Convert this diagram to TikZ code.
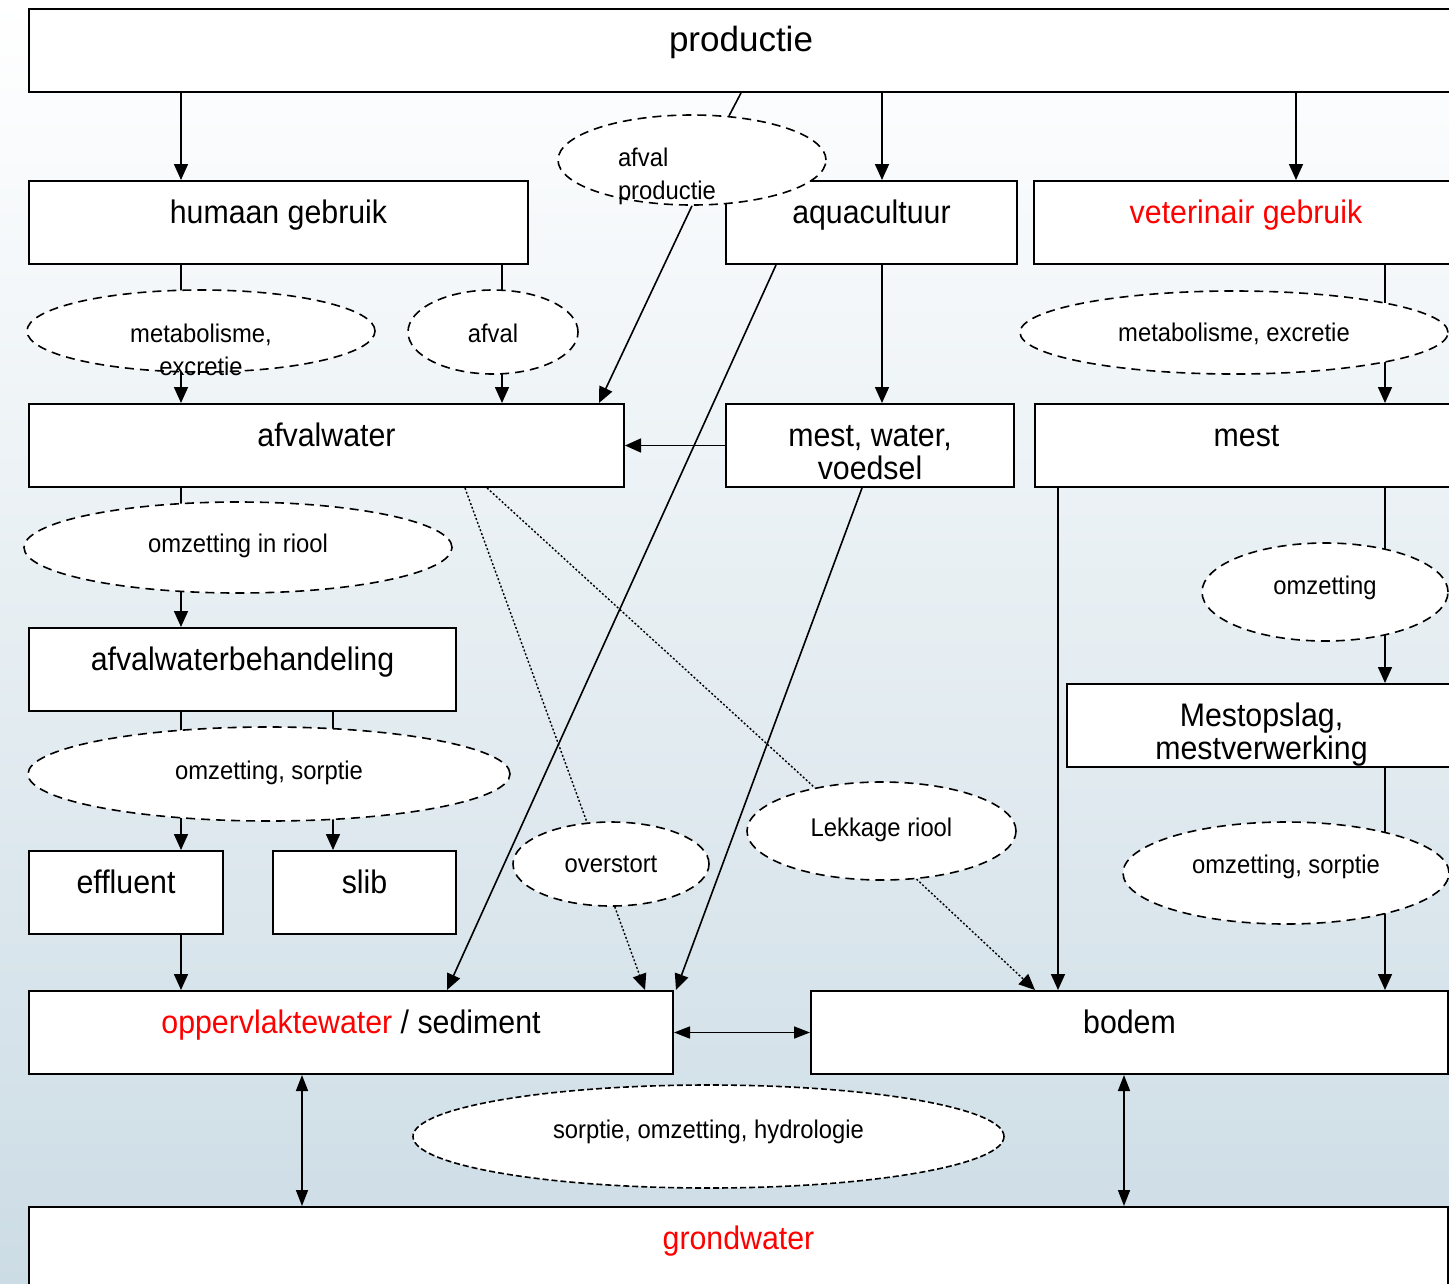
\documentclass[tikz,border=0pt]{standalone}
\usepackage{fontspec}
\setmainfont[FakeStretch=0.93]{Liberation Sans}
\newfontfamily\prodfont{Liberation Sans}
\usepackage{xcolor}
\usepackage{tikz}
\usetikzlibrary{positioning,shapes,arrows.meta,calc,backgrounds}
\definecolor{bgblue}{RGB}{204,220,229}
\definecolor{flowred}{RGB}{255,0,0}
\newcommand{\boxfont}{\fontsize{32.6}{32}\selectfont}
\newcommand{\ellfont}{\fontsize{25.6}{33}\selectfont}
\tikzstyle{box}=[draw, line width=2pt, fill=white, anchor=north west, inner xsep=4pt, inner ysep=0pt, text height=42pt, text depth=41pt, font=\boxfont]
\tikzstyle{ell}=[ellipse, draw, line width=1.6pt, dash pattern=on 9pt off 6pt, fill=white, inner sep=0pt, text height=17pt, text depth=7pt, font=\ellfont]
\tikzstyle{arrow}=[-{Triangle[length=16pt,width=14pt]}, line width=1.6pt]
\tikzstyle{twoway}=[{Triangle[length=16pt,width=12pt]}-{Triangle[length=16pt,width=12pt]}, line width=1.6pt]
\tikzstyle{leak}=[line width=1.4pt, dash pattern=on 2pt off 2pt]

\begin{document}
\begin{tikzpicture}[x=1pt,y=-1pt]
	\useasboundingbox (0,0) rectangle (1449,1283);
	\begin{scope}[on background layer]
		\shade[top color=white, bottom color=bgblue] (0,0) rectangle (1449,1283);
	\end{scope}
	\clip (0,0) rectangle (1449,1283);

	% boxes
	\node[box, minimum width=1424pt, font={\prodfont\fontsize{35}{35}\selectfont}] (prod) at (28,8) {productie};
	\node[box, minimum width=499pt] (hum) at (28,180) {humaan gebruik};
	\node[box, minimum width=291pt] (aqua) at (725,180) {aquacultuur};
	\node[box, minimum width=424pt, text=flowred] (vet) at (1033,180) {veterinair gebruik};
	\node[box, minimum width=595pt] (afw) at (28,403) {afvalwater};
	\node[box, minimum width=288pt] (mwv) at (725,403) {\begin{tabular}[t]{@{}c@{}}mest, water,\\voedsel\end{tabular}};
	\node[box, minimum width=423pt] (mest) at (1034,403) {mest};
	\node[box, minimum width=427pt] (awb) at (28,627) {afvalwaterbehandeling};
	\node[box, minimum width=389pt] (mop) at (1066,683) {\begin{tabular}[t]{@{}c@{}}Mestopslag,\\mestverwerking\end{tabular}};
	\node[box, minimum width=194pt] (eff) at (28,850) {effluent};
	\node[box, minimum width=183pt] (slib) at (272,850) {slib};
	\node[box, minimum width=644pt] (opp) at (28,990) {\textcolor{flowred}{oppervlaktewater} / sediment};
	\node[box, minimum width=637pt] (bod) at (810,990) {bodem};
	\node[box, minimum width=1419pt, text=flowred] (grw) at (28,1206) {grondwater};

	% processes
	\node[ell, minimum width=268pt, minimum height=90pt, text height=18pt, text depth=6pt] (eafp) at (692,160) {\makebox[148pt][l]{\begin{tabular}[t]{@{}l@{}}afval\\productie\end{tabular}}};
	\node[ell, minimum width=348pt, minimum height=82pt, text height=24pt, text depth=2pt] (emeh) at (201,331) {\begin{tabular}[t]{@{}c@{}}metabolisme,\\excretie\end{tabular}};
	\node[ell, minimum width=170pt, minimum height=84pt, text height=21pt, text depth=1pt] (eafv) at (493,332) {afval};
	\node[ell, minimum width=428pt, minimum height=83pt, text height=21pt, text depth=3pt] (emev) at (1234,332.5) {metabolisme, excretie};
	\node[ell, minimum width=428pt, minimum height=91pt] (eriool) at (238,547.5) {omzetting in riool};
	\node[ell, minimum width=246pt, minimum height=98pt, text height=14pt, text depth=10pt] (eomz) at (1325,592) {omzetting};
	\node[ell, minimum width=482pt, minimum height=94pt] (eomsl) at (269,774) {omzetting, sorptie};
	\node[ell, minimum width=196pt, minimum height=84pt, text height=20pt, text depth=4pt] (eover) at (611,864) {overstort};
	\node[ell, minimum width=269pt, minimum height=98pt] (elek) at (881.5,831) {Lekkage riool};
	\node[ell, minimum width=326pt, minimum height=102pt, text height=12pt, text depth=12pt] (eomsr) at (1286,873) {omzetting, sorptie};
	\node[ell, minimum width=591pt, minimum height=103pt, text height=14pt, text depth=10pt, dash pattern=on 6pt off 3pt] (ehyd) at (708.5,1136.5) {sorptie, omzetting, hydrologie};

	\coordinate (xa) at (181,0);
	\coordinate (xb) at (333,0);
	\coordinate (xc) at (502,0);
	\coordinate (xd) at (882,0);
	\coordinate (xe) at (1296,0);
	\coordinate (xf) at (1385,0);
	\coordinate (xg) at (1058,0);
	\coordinate (xi) at (302,0);
	\coordinate (xj) at (1124,0);

	% flows
	\begin{scope}[on background layer]
		\draw[arrow] (prod.south -| xa) -- (hum.north -| xa);
		\draw[arrow] (prod.south -| xd) -- (aqua.north -| xd);
		\draw[arrow] (prod.south -| xe) -- (vet.north -| xe);
		\draw[line width=1.6pt] (prod.south) -- (eafp.50);
		\draw[arrow] (eafp.south) -- ([xshift=-26pt]afw.north east);
		\draw[line width=1.6pt] (hum.south -| xa) -- (emeh.center -| xa);
		\draw[arrow] (emeh.center -| xa) -- (afw.north -| xa);
		\draw[line width=1.6pt] (hum.south -| xc) -- (eafv.center -| xc);
		\draw[arrow] (eafv.center -| xc) -- (afw.north -| xc);
		\draw[arrow] (aqua.south -| xd) -- (mwv.north -| xd);
		\draw[arrow] (mwv.west) -- (afw.east);
		\draw[arrow] ([xshift=51pt]aqua.south west) -- ([xshift=419pt]opp.north west);
		\draw[arrow] ([xshift=137pt]mwv.south west) -- ([xshift=2pt]opp.north east);
		\draw[line width=1.6pt] (vet.south -| xf) -- (emev.center -| xf);
		\draw[arrow] (emev.center -| xf) -- (mest.north -| xf);
		\draw[line width=1.6pt] (afw.south -| xa) -- (eriool.center -| xa);
		\draw[arrow] (eriool.center -| xa) -- (awb.north -| xa);
		\draw[leak] ([xshift=437pt]afw.south west) -- (eover.120);
		\draw[arrow, leak] (eover.-85) -- ([xshift=-29pt]opp.north east);
		\draw[leak] ([xshift=459pt]afw.south west) -- (elek.147);
		\draw[arrow, leak] (elek.-54) -- ([xshift=225pt]bod.north west);
		\draw[line width=1.6pt] (awb.south -| xa) -- (eomsl.center -| xa);
		\draw[line width=1.6pt] (awb.south -| xb) -- (eomsl.center -| xb);
		\draw[arrow] (eomsl.center -| xa) -- (eff.north -| xa);
		\draw[arrow] (eomsl.center -| xb) -- (slib.north -| xb);
		\draw[arrow] (eff.south -| xa) -- (opp.north -| xa);
		\draw[arrow] (mest.south -| xg) -- (bod.north -| xg);
		\draw[line width=1.6pt] (mest.south -| xf) -- (eomz.center -| xf);
		\draw[arrow] (eomz.center -| xf) -- (mop.north -| xf);
		\draw[line width=1.6pt] (mop.south -| xf) -- (eomsr.center -| xf);
		\draw[arrow] (eomsr.center -| xf) -- (bod.north -| xf);
		\draw[twoway] (opp.east) -- (bod.west);
		\draw[twoway] (opp.south -| xi) -- (grw.north -| xi);
		\draw[twoway] (bod.south -| xj) -- (grw.north -| xj);
	\end{scope}
\end{tikzpicture}
\end{document}
